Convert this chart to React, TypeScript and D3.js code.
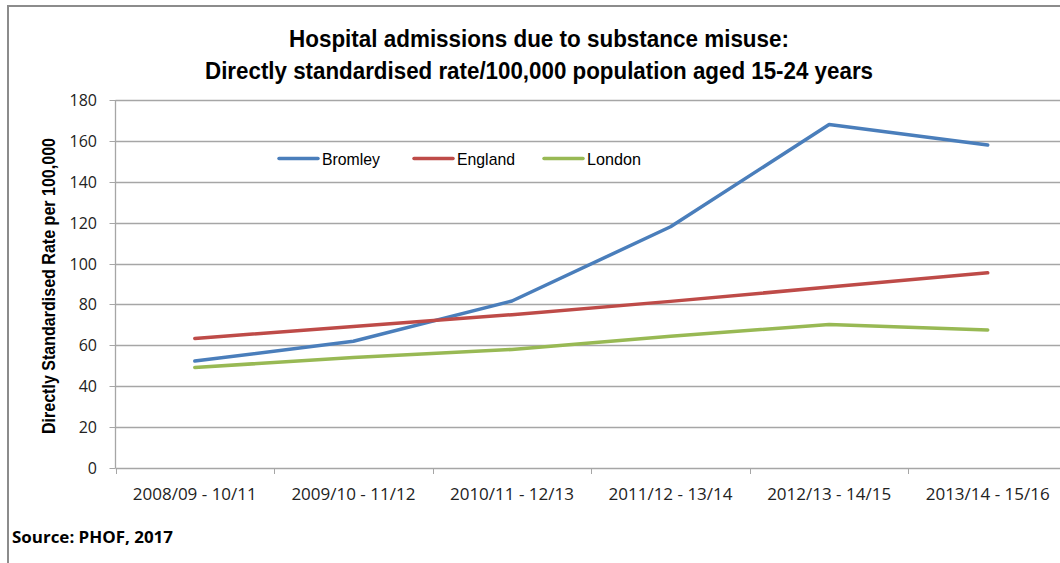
import React from "react";
import * as d3 from "d3";

const categories = [
  "2008/09 - 10/11",
  "2009/10 - 11/12",
  "2010/11 - 12/13",
  "2011/12 - 13/14",
  "2012/13 - 14/15",
  "2013/14 - 15/16",
];
const bromley = [52.3, 62, 81.7, 118, 168, 158];
const england = [63.4, 69.2, 75, 81.5, 88.5, 95.5];
const london = [49.2, 54, 58, 64.5, 70.2, 67.5];
const yTicks = [0, 20, 40, 60, 80, 100, 120, 140, 160, 180];
const seriesNames = ["Bromley", "England", "London"];
const seriesColors = ["#4a7ebb", "#be4b48", "#98b954"];

const W = 1060;
const H = 563;
const plotLeft = 115.5;
const plotRight = 1067;
const plotTop = 100;
const plotBottom = 468;

const sans = "'Liberation Sans', Arial, sans-serif";
const body = "'Open Sans', 'Liberation Sans', sans-serif";

export default function App() {
  const x = d3.scaleBand<string>().domain(categories).range([plotLeft, plotRight]);
  const y = d3.scaleLinear().domain([0, 180]).range([plotBottom, plotTop]);
  const line = d3
    .line<number>()
    .x((_, i) => (x(categories[i]) as number) + x.bandwidth() / 2)
    .y((d) => y(d));
  const series = [bromley, england, london];
  const legendX = [279, 414, 544];
  const legendW = [58, 58, 54];

  return (
    <svg
      width={W}
      height={H}
      style={{ position: "absolute", left: 0, top: 0, background: "#fff" }}
    >
      {/* chart border */}
      <line x1={8} y1={6} x2={W} y2={6} stroke="#8c8c8c" strokeWidth={2} />
      <line x1={8} y1={5} x2={8} y2={H} stroke="#8c8c8c" strokeWidth={2} />

      {/* title */}
      <text
        x={289}
        y={47}
        fontFamily={sans}
        fontWeight="bold"
        fontSize={23}
        fill="#000"
        textLength={500}
        lengthAdjust="spacingAndGlyphs"
      >
        Hospital admissions due to substance misuse:
      </text>
      <text
        x={205}
        y={79}
        fontFamily={sans}
        fontWeight="bold"
        fontSize={23}
        fill="#000"
        textLength={668}
        lengthAdjust="spacingAndGlyphs"
      >
        Directly standardised rate/100,000 population aged 15-24 years
      </text>

      {/* gridlines */}
      {yTicks.map((t) => (
        <g key={t}>
          {t > 0 && (
            <line
              x1={plotLeft}
              x2={plotRight}
              y1={Math.round(y(t)) + 0.5}
              y2={Math.round(y(t)) + 0.5}
              stroke="#a6a6a6"
              strokeWidth={1.3}
            />
          )}
          <line
            x1={plotLeft - 6}
            x2={plotLeft}
            y1={Math.round(y(t)) + 0.5}
            y2={Math.round(y(t)) + 0.5}
            stroke="#a6a6a6"
          />
          <text
            x={97}
            y={y(t) + 6}
            textAnchor="end"
            fontFamily={body}
            fontSize={16}
            fill="#222"
          >
            {t}
          </text>
        </g>
      ))}

      {/* axes */}
      <line x1={plotLeft} x2={plotLeft} y1={plotTop} y2={plotBottom} stroke="#a6a6a6" strokeWidth={1.3} />
      <line x1={plotLeft} x2={plotRight} y1={plotBottom + 0.5} y2={plotBottom + 0.5} stroke="#a6a6a6" strokeWidth={1.5} />
      {categories.map((c) => (
        <g key={c}>
          <line
            x1={Math.round(x(c) as number) + 0.5}
            x2={Math.round(x(c) as number) + 0.5}
            y1={plotBottom}
            y2={plotBottom + 6}
            stroke="#a6a6a6"
          />
          <text
            x={(x(c) as number) + x.bandwidth() / 2 - 62}
            y={500}
            fontFamily={body}
            fontSize={16}
            fill="#222"
            textLength={124}
            lengthAdjust="spacingAndGlyphs"
          >
            {c}
          </text>
        </g>
      ))}

      {/* y axis title */}
      <text
        transform={`translate(55,434) rotate(-90)`}
        fontFamily={sans}
        fontWeight="bold"
        fontSize={17.5}
        fill="#000"
        textLength={296}
        lengthAdjust="spacingAndGlyphs"
      >
        Directly Standardised Rate per 100,000
      </text>

      {/* series */}
      {series.map((s, i) => (
        <path
          key={seriesNames[i]}
          d={line(s) as string}
          fill="none"
          stroke={seriesColors[i]}
          strokeWidth={3.5}
          strokeLinejoin="round"
          strokeLinecap="round"
        />
      ))}

      {/* legend */}
      {seriesNames.map((n, i) => (
        <g key={n}>
          <line
            x1={legendX[i]}
            x2={legendX[i] + 39}
            y1={158.5}
            y2={158.5}
            stroke={seriesColors[i]}
            strokeWidth={3.5}
            strokeLinecap="round"
          />
          <text
            x={legendX[i] + 43}
            y={165}
            fontFamily={sans}
            fontSize={17}
            fill="#000"
            textLength={legendW[i]}
            lengthAdjust="spacingAndGlyphs"
          >
            {n}
          </text>
        </g>
      ))}

      {/* source */}
      <text
        x={12}
        y={543}
        fontFamily={body}
        fontWeight="bold"
        fontSize={16}
        fill="#000"
        textLength={161}
        lengthAdjust="spacingAndGlyphs"
      >
        Source: PHOF, 2017
      </text>
    </svg>
  );
}
